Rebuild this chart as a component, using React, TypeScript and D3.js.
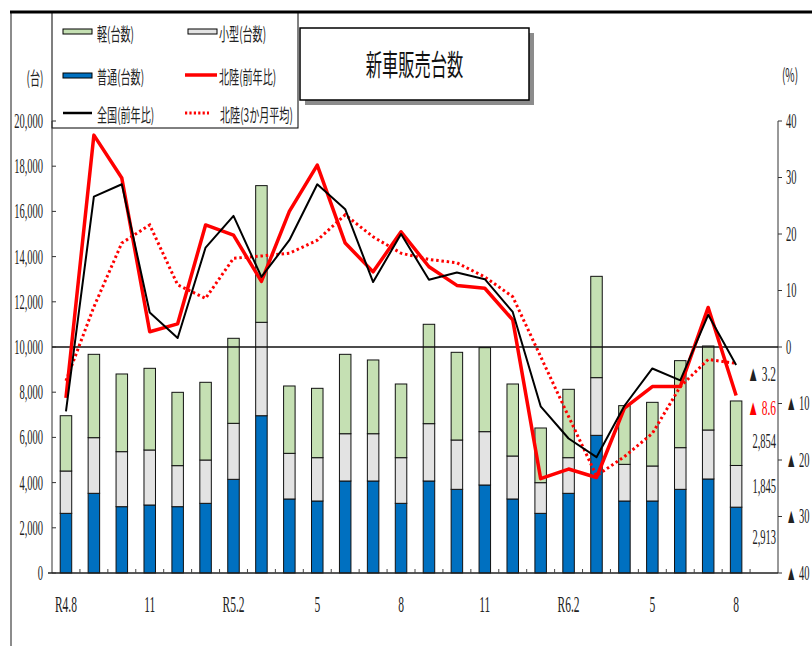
import React from "react";
import * as d3 from "d3";

// ---- data ----
const months = ["R4.8","9","10","11","12","R5.1","R5.2","3","4","5","6","7","8","9","10","11","12","R6.1","R6.2","3","4","5","6","7","8"];
const tickMonths = ["R4.8","11","R5.2","5","8","11","R6.2","5","8"];
const futsu = [2640,3526,2935,3009,2935,3083,4145,6960,3275,3186,4071,4071,3083,4071,3702,3894,3275,2640,3526,6092,3186,3186,3702,4160,2913];
const kogata = [1873,2462,2434,2434,1815,1917,2478,4133,2020,1917,2092,2092,2020,2537,2183,2360,1902,1357,1577,2552,1622,1549,1844,2168,1845];
const kei = [2447,3688,3437,3614,3245,3438,3762,6047,2980,3069,3513,3263,3260,4397,3880,3717,3186,2419,3025,4483,2597,2817,3850,3717,2854];
const hokurikuYoY = [-9,37.5,29.9,2.7,4.1,21.6,19.8,11.6,24,32.2,18.4,13.3,20.4,14.2,10.9,10.4,4.8,-23.3,-21.6,-23.1,-10.8,-7.0,-7.0,7.0,-8.6];
const zenkokuYoY = [-11.4,26.6,28.8,6.1,1.6,17.6,23.2,12.4,18.9,28.8,24.4,11.5,20.0,11.9,13.2,12.0,6.2,-10.5,-16.2,-19.5,-10.4,-3.8,-5.9,5.7,-3.2];
const hokuriku3m = [-6,7.1,18.4,21.6,11.0,8.6,15.7,16.1,16.6,18.9,23.4,19.5,16.6,15.5,14.9,12.4,8.9,-1.7,-12.3,-22.8,-19.4,-15.3,-7.0,-2.2,-2.9];
const leftTicks = [0,2000,4000,6000,8000,10000,12000,14000,16000,18000,20000];
const rightTicks = [-40,-30,-20,-10,0,10,20,30,40];

const NUM = "'Liberation Serif', 'DejaVu Serif', serif";
const JP = "'Noto Sans CJK JP', 'Noto Sans', sans-serif";
const GREEN = "#c5e0b3";
const GRAY = "#e3e3e3";
const BLUE = "#0070c0";

type TP = { x: number; y: number; children: React.ReactNode; anchor?: string; size?: number; sx?: number; family?: string; fill?: string };
const T = ({ x, y, children, anchor = "start", size = 20, sx = 0.55, family = NUM, fill = "#222" }: TP) => (
  <text transform={`translate(${x},${y}) scale(${sx},1)`} textAnchor={anchor as any} dominantBaseline="central" fontSize={size} fontFamily={family} fill={fill}>{children}</text>
);

const fmtPct = (v: number) => (v < 0 ? "▲ " + Math.abs(v) : String(v));
const fmtNum = d3.format(",");

export default function App() {
  const W = 812, H = 646;
  const left = 52, right = 778, top = 121, bottom = 573;
  const idx = d3.range(months.length + 1).map(String);
  const x = d3.scaleBand<string>().domain(idx).range([left, right]).paddingInner(0).paddingOuter(0);
  const step = x.step();
  const bw = 11.5;
  const cx = (i: number) => (x(String(i)) as number) + step / 2;
  const yL = d3.scaleLinear().domain([0, 20000]).range([bottom, top]);
  const yR = d3.scaleLinear().domain([-40, 40]).range([bottom, top]);

  const rows = months.map((m, i) => ({ i, futsu: futsu[i], kogata: kogata[i], kei: kei[i] }));
  const stack = d3.stack<any>().keys(["futsu", "kogata", "kei"])(rows);
  const colors: Record<string, string> = { futsu: BLUE, kogata: GRAY, kei: GREEN };

  const line = d3.line<number>().x((_, i) => cx(i)).y((d) => yR(d));

  const last = months.length - 1;
  const lastKeiCenter = yL(futsu[last] + kogata[last] + kei[last] / 2);
  const lastKogCenter = yL(futsu[last] + kogata[last] / 2);
  const lastFutsuCenter = yL(futsu[last] / 2);

  return (
    <svg width={W} height={H} style={{ position: "absolute", left: 0, top: 0, background: "#fff" }}>
      <rect x={0} y={0} width={W} height={H} fill="#fff" />
      {/* outer frame */}
      <line x1={11} y1={12} x2={11} y2={H} stroke="#666" strokeWidth={1.5} />
      <line x1={10} y1={12} x2={W} y2={12} stroke="#000" strokeWidth={3} />

      {/* legend box */}
      <rect x={52} y={13} width={246} height={115} fill="#fff" stroke="#000" strokeWidth={1} />
      <rect x={63} y={29} width={29} height={5} fill={GREEN} stroke="#000" strokeWidth={1} />
      <T x={97} y={33} size={18} sx={0.56} family={JP}>軽(台数)</T>
      <rect x={188} y={29} width={29} height={5} fill={GRAY} stroke="#000" strokeWidth={1} />
      <T x={219} y={33} size={18} sx={0.56} family={JP}>小型(台数)</T>
      <rect x={63} y={73} width={29} height={5} fill={BLUE} stroke="#000" strokeWidth={1} />
      <T x={97} y={76} size={18} sx={0.56} family={JP}>普通(台数)</T>
      <line x1={185} y1={75} x2={217} y2={75} stroke="#ff0000" strokeWidth={3.5} />
      <T x={219} y={76} size={18} sx={0.56} family={JP}>北陸(前年比)</T>
      <line x1={63} y1={113} x2={92} y2={113} stroke="#000" strokeWidth={2.5} />
      <T x={97} y={114} size={18} sx={0.56} family={JP}>全国(前年比)</T>
      <line x1={185} y1={113} x2={209} y2={113} stroke="#ff0000" strokeWidth={3} strokeDasharray="2.2 2.2" />
      <T x={220} y={114} size={18} sx={0.56} family={JP}>北陸(3か月平均)</T>

      {/* title box */}
      <rect x={305} y={33} width={229} height={72} fill="#8c8c8c" />
      <rect x={300} y={28} width={229} height={72} fill="#fff" stroke="#000" strokeWidth={1.5} />
      <T x={414.5} y={64} size={29} sx={0.56} family={JP} anchor="middle" fill="#111">新車販売台数</T>

      {/* unit labels */}
      <T x={35} y={77} size={18} sx={0.56} family={JP} anchor="middle">(台)</T>
      <T x={790} y={74} size={18} sx={0.56} family={JP} anchor="middle">(%)</T>

      {/* bars */}
      {stack.map((s) => (
        <g key={s.key}>
          {s.map((d, i) => (
            <rect key={i} x={cx(i) - bw / 2} y={yL(d[1])} width={bw} height={yL(d[0]) - yL(d[1])} fill={colors[s.key]} stroke="#111" strokeWidth={1} />
          ))}
        </g>
      ))}

      {/* axes */}
      <line x1={left} y1={top} x2={left} y2={bottom} stroke="#333" strokeWidth={1} />
      <line x1={right} y1={top} x2={right} y2={bottom} stroke="#333" strokeWidth={1} />
      <line x1={left - 4} y1={bottom} x2={right} y2={bottom} stroke="#222" strokeWidth={1.5} />
      <line x1={left} y1={yL(10000)} x2={right} y2={yL(10000)} stroke="#111" strokeWidth={1.5} />
      {leftTicks.map((t) => (
        <g key={t}>
          <line x1={left} y1={yL(t)} x2={left + 4} y2={yL(t)} stroke="#333" strokeWidth={1} />
          <T x={43} y={yL(t)} anchor="end" size={21} sx={0.5}>{fmtNum(t)}</T>
        </g>
      ))}
      {rightTicks.map((t) => (
        <g key={t}>
          <line x1={right} y1={yR(t)} x2={right + 4} y2={yR(t)} stroke="#333" strokeWidth={1} />
          <T x={786} y={yR(t)} size={21} sx={0.5}>{fmtPct(t)}</T>
        </g>
      ))}
      {d3.range(1, months.length + 1).map((i) => (
        <line key={i} x1={x(String(i)) as number} y1={bottom} x2={x(String(i)) as number} y2={bottom - 4} stroke="#444" strokeWidth={1} />
      ))}
      {months.map((m, i) => (i % 3 === 0 ? (
        <T key={i} x={cx(i)} y={604} anchor="middle" size={23} sx={0.5}>{tickMonths[i / 3]}</T>
      ) : null))}

      {/* lines */}
      <path d={line(hokuriku3m) || ""} fill="none" stroke="#ff0000" strokeWidth={3} strokeDasharray="2.5 2.8" />
      <path d={line(hokurikuYoY) || ""} fill="none" stroke="#ff0000" strokeWidth={3.5} strokeLinejoin="round" />
      <path d={line(zenkokuYoY) || ""} fill="none" stroke="#000" strokeWidth={2} strokeLinejoin="round" />

      {/* end labels */}
      <T x={776} y={yR(zenkokuYoY[last]) + 8} anchor="end" size={22} sx={0.52}>{fmtPct(zenkokuYoY[last])}</T>
      <T x={776} y={yR(hokurikuYoY[last]) + 12} anchor="end" size={22} sx={0.52} fill="#ff0000">{fmtPct(hokurikuYoY[last])}</T>
      <T x={776} y={lastKeiCenter + 8} anchor="end" size={21} sx={0.5}>{fmtNum(kei[last])}</T>
      <T x={776} y={lastKogCenter} anchor="end" size={21} sx={0.5}>{fmtNum(kogata[last])}</T>
      <T x={776} y={lastFutsuCenter - 3} anchor="end" size={21} sx={0.5}>{fmtNum(futsu[last])}</T>
    </svg>
  );
}
